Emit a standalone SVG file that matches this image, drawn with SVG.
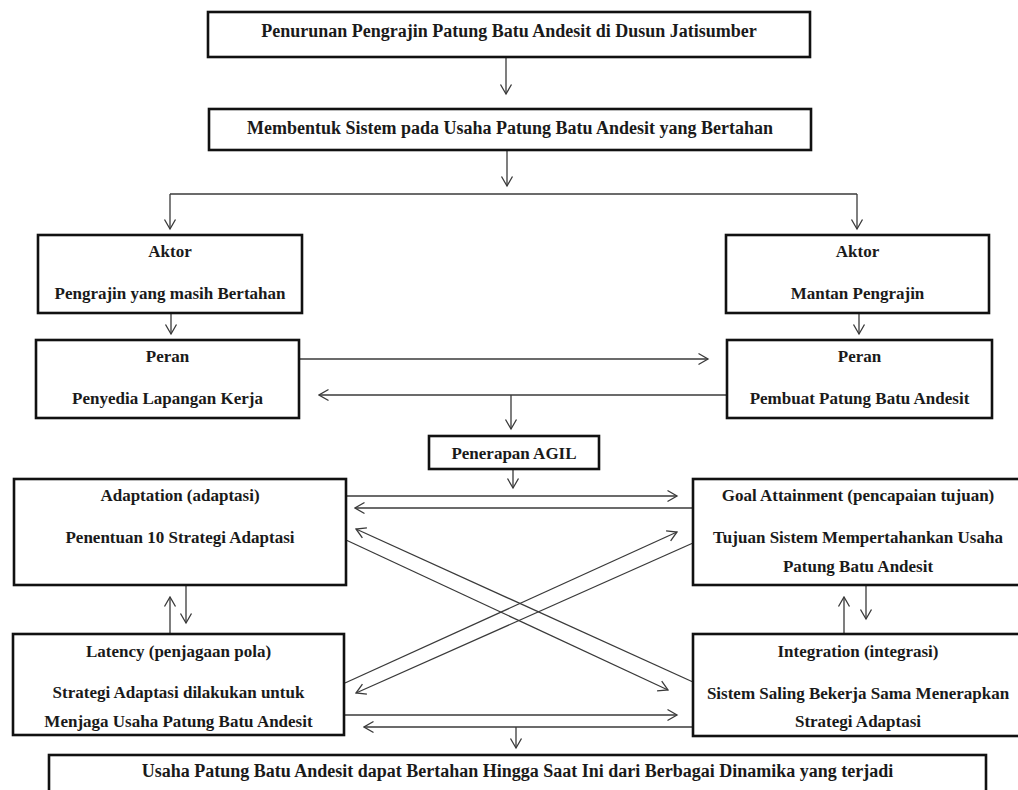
<svg xmlns="http://www.w3.org/2000/svg" width="1018" height="790" viewBox="0 0 1018 790">
<style>
.box{fill:#fff;stroke:#111;stroke-width:2.6}
.t{font-family:"Liberation Serif","Times New Roman",serif;font-weight:bold;font-size:17px;fill:#1a1a1a;text-anchor:middle}
.big{font-size:18px}
.c{stroke:#3a3a3a;stroke-width:1.3;fill:none}
.a{marker-end:url(#arr)}
</style>
<defs>
<marker id="arr" viewBox="-1 -7 12 14" refX="9.5" refY="0" markerWidth="12" markerHeight="14" markerUnits="userSpaceOnUse" orient="auto">
<path d="M0,-5.5 L9.5,0 L0,5.5" fill="none" stroke="#3a3a3a" stroke-width="1.3"/>
</marker>
</defs>
<rect width="1018" height="790" fill="#fff"/>
<g id="connectors">
<line class="c a" x1="506" y1="57" x2="506" y2="94"/>
<line class="c a" x1="507" y1="150" x2="507" y2="186"/>
<line class="c" x1="170" y1="194" x2="857" y2="194"/>
<line class="c a" x1="170" y1="194" x2="170" y2="229"/>
<line class="c a" x1="857" y1="194" x2="857" y2="229"/>
<line class="c a" x1="171" y1="313" x2="171" y2="334"/>
<line class="c a" x1="859" y1="313" x2="859" y2="334"/>
<line class="c a" x1="299" y1="359" x2="708" y2="359"/>
<line class="c a" x1="727" y1="395" x2="319" y2="395"/>
<line class="c a" x1="511" y1="395" x2="511" y2="429"/>
<line class="c a" x1="513" y1="469" x2="513" y2="488"/>
<line class="c a" x1="346" y1="496" x2="677" y2="496"/>
<line class="c a" x1="693" y1="508" x2="355" y2="508"/>
<line class="c a" x1="346" y1="540" x2="668" y2="690"/>
<line class="c a" x1="693" y1="682" x2="356" y2="529"/>
<line class="c a" x1="345" y1="683" x2="677" y2="532"/>
<line class="c a" x1="693" y1="543" x2="356" y2="693"/>
<line class="c a" x1="170" y1="634" x2="170" y2="597"/>
<line class="c a" x1="186" y1="585" x2="186" y2="623"/>
<line class="c a" x1="844" y1="634" x2="844" y2="597"/>
<line class="c a" x1="866" y1="585" x2="866" y2="619"/>
<line class="c a" x1="345" y1="715" x2="677" y2="715"/>
<line class="c a" x1="693" y1="727" x2="364" y2="727"/>
<line class="c a" x1="516" y1="727" x2="516" y2="748"/>
</g>
<g id="n1">
<rect class="box" x="208" y="12" width="602" height="45"/>
<text class="t big" x="509" y="37">Penurunan Pengrajin Patung Batu Andesit di Dusun Jatisumber</text>
</g>
<g id="n2">
<rect class="box" x="209" y="109" width="602" height="41"/>
<text class="t big" x="510" y="134">Membentuk Sistem pada Usaha Patung Batu Andesit yang Bertahan</text>
</g>
<g id="aktor-left">
<rect class="box" x="38" y="235" width="264" height="78"/>
<text class="t" x="170" y="257">Aktor</text>
<text class="t" x="170" y="299">Pengrajin yang masih Bertahan</text>
</g>
<g id="aktor-right">
<rect class="box" x="726" y="235" width="263" height="78"/>
<text class="t" x="857.5" y="257">Aktor</text>
<text class="t" x="857.5" y="299">Mantan Pengrajin</text>
</g>
<g id="peran-left">
<rect class="box" x="36" y="340" width="263" height="78"/>
<text class="t" x="167.5" y="362">Peran</text>
<text class="t" x="167.5" y="404">Penyedia Lapangan Kerja</text>
</g>
<g id="peran-right">
<rect class="box" x="727" y="340" width="265" height="78"/>
<text class="t" x="859.5" y="362">Peran</text>
<text class="t" x="859.5" y="404">Pembuat Patung Batu Andesit</text>
</g>
<g id="agil">
<rect class="box" x="429" y="436" width="170" height="33"/>
<text class="t" x="514" y="459">Penerapan AGIL</text>
</g>
<g id="adaptation">
<rect class="box" x="14" y="479" width="332" height="106"/>
<text class="t" x="180" y="501">Adaptation (adaptasi)</text>
<text class="t" x="180" y="543">Penentuan 10 Strategi Adaptasi</text>
</g>
<g id="goal">
<rect class="box" x="693" y="479" width="340" height="106"/>
<text class="t" x="858" y="501">Goal Attainment (pencapaian tujuan)</text>
<text class="t" x="858" y="543">Tujuan Sistem Mempertahankan Usaha</text>
<text class="t" x="858" y="572">Patung Batu Andesit</text>
</g>
<g id="latency">
<rect class="box" x="13" y="634" width="331" height="101"/>
<text class="t" x="178.5" y="657">Latency (penjagaan pola)</text>
<text class="t" x="178.5" y="698">Strategi Adaptasi dilakukan untuk</text>
<text class="t" x="178.5" y="727">Menjaga Usaha Patung Batu Andesit</text>
</g>
<g id="integration">
<rect class="box" x="693" y="634" width="340" height="102"/>
<text class="t" x="858" y="657">Integration (integrasi)</text>
<text class="t" x="858" y="699">Sistem Saling Bekerja Sama Menerapkan</text>
<text class="t" x="858" y="727">Strategi Adaptasi</text>
</g>
<g id="result">
<rect class="box" x="49" y="755" width="937" height="60"/>
<text class="t big" x="517.5" y="777">Usaha Patung Batu Andesit dapat Bertahan Hingga Saat Ini dari Berbagai Dinamika yang terjadi</text>
</g>
</svg>
